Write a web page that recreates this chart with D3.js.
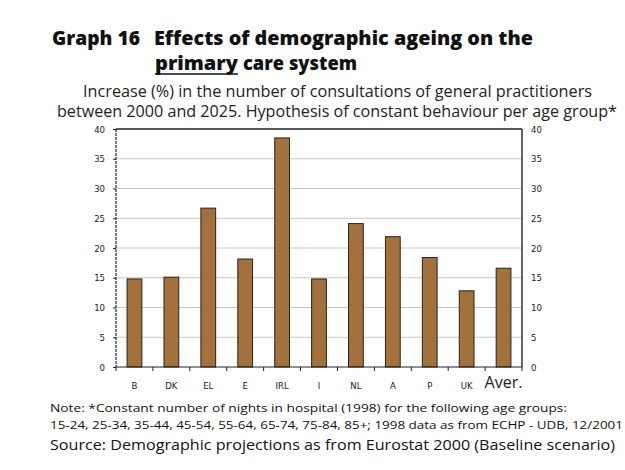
<!DOCTYPE html>
<html><head><meta charset="utf-8">
<script src="https://cdn.jsdelivr.net/npm/d3@7"></script>
<style>body{margin:0;background:#fff}svg{display:block}</style>
</head><body>
<script>
const categories = ["B","DK","EL","E","IRL","I","NL","A","P","UK","Aver."];
const values = [14.8,15.1,26.7,18.15,38.5,14.8,24.1,21.9,18.4,12.8,16.6];
const yTicks = [0,5,10,15,20,25,30,35,40];

const W=625,H=470;
const svg=d3.select("body").append("svg").attr("width",W).attr("height",H);
const L=116,R=522,T=129,B=367;
const x=d3.scaleBand().domain(categories).range([L,R]).paddingInner(0.6).paddingOuter(0.3);
const y=d3.scaleLinear().domain([0,40]).range([B,T]);
const font="'Open Sans', 'DejaVu Sans', sans-serif";
const narrow="'Liberation Sans Narrow','DejaVu Sans Condensed',sans-serif";

function txt(xp,yp,s,size,len,opts={}){
  const e=svg.append("text").attr("x",xp).attr("y",yp).attr("font-family",font).attr("font-size",size).attr("fill","#111")
   .attr("textLength",len).attr("lengthAdjust","spacingAndGlyphs").text(s);
  if(opts.bold) e.attr("font-weight","800");
  return e;
}
// title
txt(52,45,"Graph 16",18.5,88,{bold:true});
txt(154,45,"Effects of demographic ageing on the",18.5,379,{bold:true});
txt(155,70,"primary",18.5,83,{bold:true});
svg.append("line").attr("x1",155).attr("x2",238).attr("y1",74).attr("y2",74).attr("stroke","#111").attr("stroke-width",1.6);
txt(243,70,"care system",18.5,114,{bold:true});

txt(83,97,"Increase (%) in the number of consultations of general practitioners",15.5,509).attr("fill","#222");
txt(57,117,"between 2000 and 2025. Hypothesis of constant behaviour per age group*",15.5,560).attr("fill","#222");

// grid
svg.append("g").selectAll("line").data(yTicks.filter(d=>d>0&&d<40)).join("line")
 .attr("x1",L).attr("x2",R).attr("y1",d=>y(d)).attr("y2",d=>y(d)).attr("stroke","#c8c8c8").attr("stroke-width",1);

// bars
svg.append("g").selectAll("rect").data(values).join("rect")
 .attr("x",(d,i)=>x(categories[i])).attr("width",x.bandwidth())
 .attr("y",d=>y(d)).attr("height",d=>B-y(d))
 .attr("fill","#A2713C").attr("stroke","#2a2218").attr("stroke-width",1);

// frame
svg.append("line").attr("x1",L).attr("x2",R).attr("y1",T).attr("y2",T).attr("stroke","#222").attr("stroke-width",1.5);
svg.append("line").attr("x1",R).attr("x2",R).attr("y1",T).attr("y2",B).attr("stroke","#333").attr("stroke-width",1.5);
svg.append("line").attr("x1",L).attr("x2",L).attr("y1",T).attr("y2",B).attr("stroke","#222").attr("stroke-width",1.2).attr("stroke-dasharray","3,1");

// y axes
const yl=svg.append("g").attr("transform",`translate(${L},0)`).call(d3.axisLeft(y).tickValues(yTicks).tickSize(3).tickPadding(8));
const yr=svg.append("g").attr("transform",`translate(${R},0)`).call(d3.axisRight(y).tickValues(yTicks).tickSize(0).tickPadding(9));
[yl,yr].forEach(g=>{g.select(".domain").remove();g.selectAll("text").attr("font-family",narrow).attr("font-size",9.5).attr("fill","#222");g.selectAll("line").attr("stroke","#222");});

// x axis
const xa=svg.append("g").attr("transform",`translate(0,${B})`);
xa.append("line").attr("x1",L).attr("x2",R).attr("stroke","#222").attr("stroke-width",1.2);
const bounds=d3.range(categories.length+1).map(i=>L+i*(R-L)/categories.length);
xa.selectAll("line.t").data(bounds).join("line").attr("class","t").attr("x1",d=>d).attr("x2",d=>d).attr("y1",0).attr("y2",4).attr("stroke","#222");
const last=categories.length-1;
xa.selectAll("text").data(categories).join("text")
 .attr("x",d=>x(d)+x.bandwidth()/2).attr("y",(d,i)=>i===last?21:22)
 .attr("text-anchor","middle")
 .attr("font-family",(d,i)=>i===last?font:narrow)
 .attr("font-size",(d,i)=>i===last?16:9.5).attr("fill","#222").text(d=>d);

// notes
txt(50,412,"Note: *Constant number of nights in hospital (1998) for the following age groups:",11.5,517);
txt(50,429,"15-24, 25-34, 35-44, 45-54, 55-64, 65-74, 75-84, 85+; 1998 data as from ECHP - UDB, 12/2001",11.5,573);
txt(50,450,"Source: Demographic projections as from Eurostat 2000 (Baseline scenario)",15,565);
</script>
</body></html>
